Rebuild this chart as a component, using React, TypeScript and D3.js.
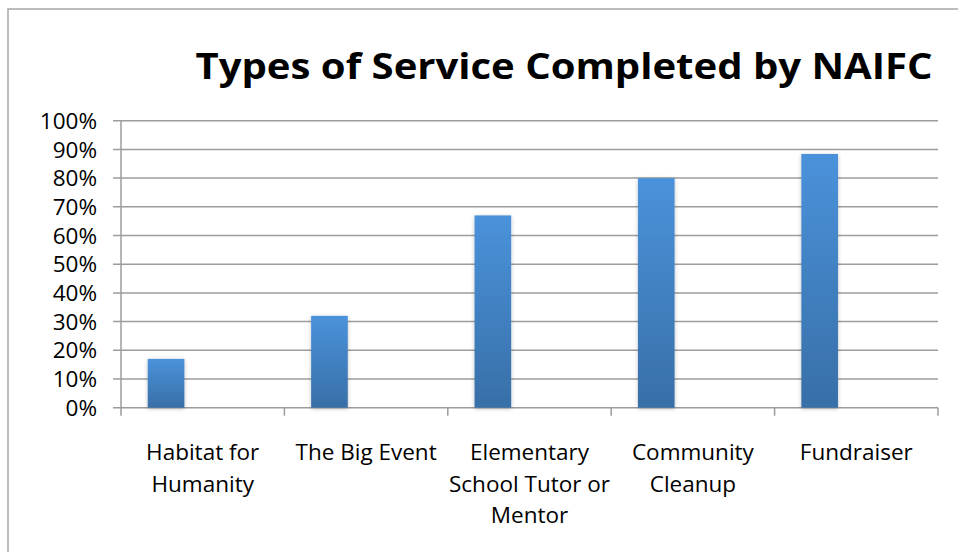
import React from "react";
import * as d3 from "d3";

const categories = [
  ["Habitat for", "Humanity"],
  ["The Big Event"],
  ["Elementary", "School Tutor or", "Mentor"],
  ["Community", "Cleanup"],
  ["Fundraiser"],
];
const values = [0.17, 0.32, 0.67, 0.8, 0.884];
const yTicks = [0, 0.1, 0.2, 0.3, 0.4, 0.5, 0.6, 0.7, 0.8, 0.9, 1.0];
const title = "Types of Service Completed by NAIFC";

const W = 958;
const H = 552;
const plotLeft = 121;
const plotRight = 938;
const plotTop = 120.7;
const plotBottom = 407.7;

export default function App() {
  const x = d3
    .scaleBand<number>()
    .domain(d3.range(categories.length))
    .range([plotLeft, plotRight])
    .paddingInner(0)
    .paddingOuter(0);
  const bw = x.bandwidth();
  const sub = d3
    .scaleBand<number>()
    .domain([0, 1, 2])
    .range([0, bw])
    .paddingInner(0)
    .paddingOuter(0.73);
  const y = d3.scaleLinear().domain([0, 1]).range([plotBottom, plotTop]);
  const fmt = d3.format(".0%");
  const font = "'Open Sans', sans-serif";

  return (
    <svg
      width={W}
      height={H}
      style={{ position: "absolute", left: 0, top: 0, background: "#fff" }}
    >
      <defs>
        <linearGradient id="barGrad" x1="0" y1="0" x2="0" y2="1">
          <stop offset="0%" stopColor="#4A92DB" />
          <stop offset="100%" stopColor="#386FA7" />
        </linearGradient>
        <filter id="shadow" x="-30%" y="-10%" width="160%" height="120%">
          <feGaussianBlur in="SourceAlpha" stdDeviation="2" />
          <feOffset dx="0" dy="1" result="b" />
          <feComponentTransfer>
            <feFuncA type="linear" slope="0.25" />
          </feComponentTransfer>
          <feMerge>
            <feMergeNode />
            <feMergeNode in="SourceGraphic" />
          </feMerge>
        </filter>
      </defs>
      <rect x={8} y={9} width={W + 10} height={H + 10} fill="#fff" stroke="#a6a6a6" strokeWidth={1.5} />
      <text
        x={564}
        y={79}
        textAnchor="middle"
        fontFamily={font}
        fontWeight={700}
        fontSize={36}
        fill="#000"
        textLength={737}
        lengthAdjust="spacingAndGlyphs"
      >
        {title}
      </text>
      {yTicks.map((t) => (
        <line
          key={"g" + t}
          x1={plotLeft - 8}
          x2={plotRight}
          y1={y(t)}
          y2={y(t)}
          stroke="#9c9c9c"
          strokeWidth={1.5}
        />
      ))}
      {yTicks.map((t) => (
        <text
          key={"l" + t}
          x={97}
          y={y(t)}
          dy="0.36em"
          textAnchor="end"
          fontFamily={font}
          fontSize={22.5}
          fill="#000"
        >
          {fmt(t)}
        </text>
      ))}
      <line x1={plotLeft} x2={plotLeft} y1={plotTop} y2={plotBottom} stroke="#9c9c9c" strokeWidth={1.5} />
      {d3.range(categories.length + 1).map((i) => {
        const xx = i < categories.length ? (x(i) as number) : plotRight;
        return (
          <line key={"xt" + i} x1={xx} x2={xx} y1={plotBottom} y2={plotBottom + 8} stroke="#9c9c9c" strokeWidth={1.5} />
        );
      })}
      {values.map((v, i) => (
        <rect
          key={"b" + i}
          x={(x(i) as number) + (sub(0) as number)}
          y={y(v)}
          width={sub.bandwidth()}
          height={plotBottom - y(v)}
          fill="url(#barGrad)"
          filter="url(#shadow)"
        />
      ))}
      {categories.map((lines, i) => (
        <text
          key={"c" + i}
          x={(x(i) as number) + bw / 2}
          y={460}
          textAnchor="middle"
          fontFamily={font}
          fontSize={22.5}
          fill="#000"
        >
          {lines.map((ln, j) => (
            <tspan key={j} x={(x(i) as number) + bw / 2} dy={j === 0 ? 0 : 31.5}>
              {ln}
            </tspan>
          ))}
        </text>
      ))}
    </svg>
  );
}
